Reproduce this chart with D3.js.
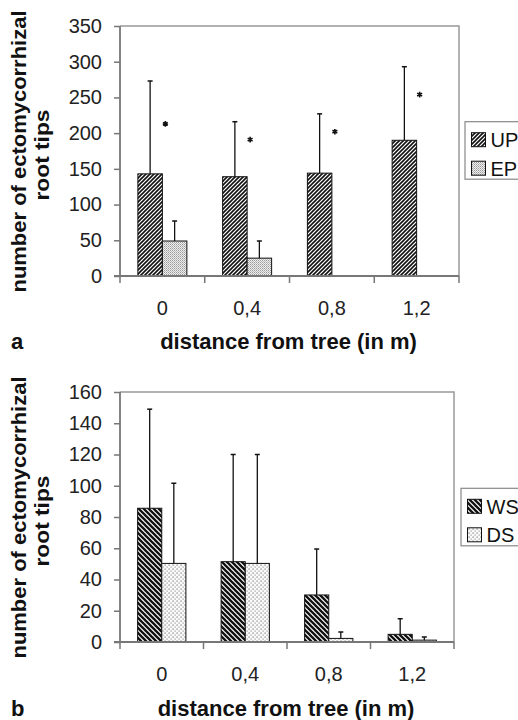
<!DOCTYPE html>
<html>
<head>
<meta charset="utf-8">
<script src="https://cdn.jsdelivr.net/npm/d3@7"></script>
<style>
  html, body { margin: 0; padding: 0; background: #fff; }
  svg { display: block; }
  text { font-family: "Liberation Sans", Arial, Helvetica, sans-serif; }
</style>
</head>
<body>
<script>
// ---------- DATA ----------
const categories = ["0", "0,4", "0,8", "1,2"];

// panel a
const seriesA = ["UP", "EP"];
const upMean = [143, 139, 144, 190];
const upSD   = [130, 77, 83, 103];
const epMean = [49, 25, null, null];
const epSD   = [28, 24, null, null];
const sigMarkY = [213, 191, 202, 254];
const yTicksA = [0, 50, 100, 150, 200, 250, 300, 350];

// panel b
const seriesB = ["WS", "DS"];
const wsMean = [85.6, 51.4, 30.1, 4.9];
const wsSD   = [63.4, 68.6, 29.4, 10];
const dsMean = [50.3, 50.3, 2.3, 1.2];
const dsSD   = [51.3, 69.7, 4.1, 2.0];
const yTicksB = [0, 20, 40, 60, 80, 100, 120, 140, 160];

const yTitle = ["number of ectomycorrhizal", "root tips"];
const xTitle = "distance from tree (in m)";

// ---------- SVG ----------
const svg = d3.select("body").append("svg").attr("width", 518).attr("height", 720);
const defs = svg.append("defs");

// patterns
function hatch(id, d, sw, size) {
  const p = defs.append("pattern").attr("id", id).attr("patternUnits", "userSpaceOnUse")
    .attr("width", size).attr("height", size);
  p.append("rect").attr("width", size).attr("height", size).attr("fill", "#fff");
  p.append("path").attr("d", d).attr("stroke", "#111").attr("stroke-width", sw).attr("fill", "none");
}
hatch("pUP", "M-1,1 l2,-2 M0,4 l4,-4 M3,5 l2,-2", 1.6, 4);
hatch("pWS", "M-1,4 l2,2 M0,0 l5,5 M4,-1 l2,2", 2.3, 5);
(function () {
  const p = defs.append("pattern").attr("id", "pEP").attr("patternUnits", "userSpaceOnUse")
    .attr("width", 2).attr("height", 2);
  p.append("rect").attr("width", 2).attr("height", 2).attr("fill", "#eee");
  p.append("rect").attr("width", 1).attr("height", 1).attr("fill", "#999");
  p.append("rect").attr("x", 1).attr("y", 1).attr("width", 1).attr("height", 1).attr("fill", "#bbb");
})();
(function () {
  const p = defs.append("pattern").attr("id", "pDS").attr("patternUnits", "userSpaceOnUse")
    .attr("width", 4).attr("height", 4);
  p.append("rect").attr("width", 4).attr("height", 4).attr("fill", "#fafafa");
  p.append("rect").attr("x", 0.5).attr("y", 0.5).attr("width", 1.2).attr("height", 1.2).attr("fill", "#777");
  p.append("rect").attr("x", 2.5).attr("y", 2.5).attr("width", 1.2).attr("height", 1.2).attr("fill", "#999");
})();

function drawPanel(cfg) {
  const { left, right, top, bottom, yMax, yTicks, series, means, sds, fills,
          stars, label, labelY, legend } = cfg;
  const g = svg.append("g");
  const x0 = d3.scaleBand().domain(categories).range([left, right]).paddingInner(0).paddingOuter(0);
  const x1 = d3.scaleBand().domain(series).range([0, x0.bandwidth()]).paddingInner(0).paddingOuter(0.73);
  const y = d3.scaleLinear().domain([0, yMax]).range([bottom, top]);

  // frame (top + right)
  g.append("path").attr("d", `M${left},${top}H${right}V${bottom}`)
    .attr("fill", "none").attr("stroke", "#999").attr("stroke-width", 1.5);

  // y axis
  const ya = g.append("g").attr("transform", `translate(${left},0)`)
    .call(d3.axisLeft(y).tickValues(yTicks).tickSize(6).tickPadding(12));
  ya.select(".domain").remove();
  ya.selectAll(".tick line").attr("stroke", "#777").attr("stroke-width", 1.5);
  ya.selectAll(".tick text").attr("font-size", 20).attr("fill", "#222")
    .attr("font-family", "Liberation Sans, Arial, sans-serif");
  g.append("line").attr("x1", left).attr("x2", left).attr("y1", top).attr("y2", bottom)
    .attr("stroke", "#777").attr("stroke-width", 1.8);

  // bars
  series.forEach((s, si) => {
    categories.forEach((c, ci) => {
      const v = means[si][ci];
      if (v == null) return;
      const bx = x0(c) + x1(s);
      g.append("rect").attr("x", bx).attr("y", y(v)).attr("width", x1.bandwidth())
        .attr("height", y(0) - y(v)).attr("fill", `url(#${fills[si]})`)
        .attr("stroke", "#111").attr("stroke-width", 1);
      const sd = sds[si][ci];
      if (sd != null) {
        const cx = bx + x1.bandwidth() / 2;
        g.append("line").attr("x1", cx).attr("x2", cx).attr("y1", y(v)).attr("y2", y(v + sd))
          .attr("stroke", "#111").attr("stroke-width", 1.3);
        g.append("line").attr("x1", cx - 2.5).attr("x2", cx + 2.5).attr("y1", y(v + sd)).attr("y2", y(v + sd))
          .attr("stroke", "#111").attr("stroke-width", 1.5);
      }
    });
  });

  // significance stars
  if (stars) {
    categories.forEach((c, ci) => {
      g.append("path").attr("d", d3.symbol().type(d3.symbolAsterisk).size(22)())
        .attr("transform", `translate(${x0(c) + x0.bandwidth() / 2 + 3},${y(stars[ci])})`)
        .attr("stroke", "#111").attr("stroke-width", 1.6).attr("fill", "none");
    });
  }

  // x axis
  const xa = g.append("g").attr("transform", `translate(0,${bottom})`)
    .call(d3.axisBottom(x0).tickSize(0).tickPadding(25));
  xa.select(".domain").remove();
  xa.selectAll(".tick text").attr("font-size", 20).attr("fill", "#222")
    .attr("font-family", "Liberation Sans, Arial, sans-serif");
  g.append("line").attr("x1", left - 6).attr("x2", right).attr("y1", bottom).attr("y2", bottom)
    .attr("stroke", "#777").attr("stroke-width", 1.8);
  const edges = categories.map(c => x0(c)).concat([right]);
  g.selectAll(".xedge").data(edges).enter().append("line")
    .attr("x1", d => d).attr("x2", d => d).attr("y1", bottom).attr("y2", bottom + 7)
    .attr("stroke", "#777").attr("stroke-width", 1.5);

  // y title
  const cy = (top + bottom) / 2;
  g.append("text").attr("transform", `translate(26,${cy + 0.5}) rotate(-90)`)
    .attr("text-anchor", "middle").attr("font-weight", "bold").attr("font-size", 20).attr("fill", "#111")
    .attr("textLength", 282).attr("lengthAdjust", "spacingAndGlyphs")
    .text(yTitle[0]);
  g.append("text").attr("transform", `translate(49,${cy + 4}) rotate(-90)`)
    .attr("text-anchor", "middle").attr("font-weight", "bold").attr("font-size", 20).attr("fill", "#111")
    .attr("textLength", 91).attr("lengthAdjust", "spacingAndGlyphs")
    .text(yTitle[1]);

  // x title + panel label
  g.append("text").attr("x", (left + right) / 2 - 1).attr("y", labelY)
    .attr("text-anchor", "middle").attr("font-weight", "bold").attr("font-size", 22).attr("fill", "#111")
    .text(xTitle);
  g.append("text").attr("x", 11).attr("y", labelY)
    .attr("font-weight", "bold").attr("font-size", 22).attr("fill", "#111").text(label);

  // legend
  const lg = g.append("g");
  lg.append("rect").attr("x", legend.x).attr("y", legend.y).attr("width", 80).attr("height", 57.5)
    .attr("fill", "#fff").attr("stroke", "#888").attr("stroke-width", 1.2);
  series.forEach((s, si) => {
    const ry = legend.y + 11 + si * 28.5;
    lg.append("rect").attr("x", legend.x + 6.5).attr("y", ry).attr("width", 14).attr("height", 14)
      .attr("fill", `url(#${fills[si]})`).attr("stroke", "#111").attr("stroke-width", 1);
    lg.append("text").attr("x", legend.x + 25.5).attr("y", ry + 14.5)
      .attr("font-size", 20).attr("fill", "#111").text(s);
  });
}

drawPanel({
  left: 120, right: 459, top: 26, bottom: 276, yMax: 350, yTicks: yTicksA,
  series: seriesA, means: [upMean, epMean], sds: [upSD, epSD], fills: ["pUP", "pEP"],
  stars: sigMarkY, label: "a", labelY: 349, legend: { x: 465, y: 121.7 }
});
drawPanel({
  left: 120, right: 454, top: 392, bottom: 642, yMax: 160, yTicks: yTicksB,
  series: seriesB, means: [wsMean, dsMean], sds: [wsSD, dsSD], fills: ["pWS", "pDS"],
  stars: null, label: "b", labelY: 716, legend: { x: 461, y: 488.3 }
});
</script>
</body>
</html>
